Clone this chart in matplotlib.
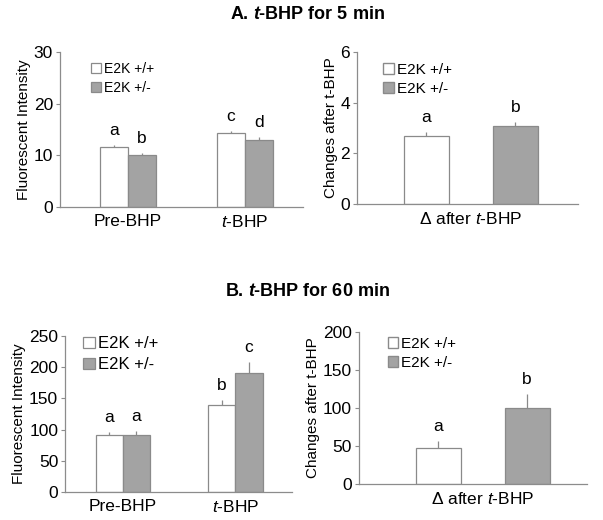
import numpy as np
import matplotlib
matplotlib.use("Agg")
import matplotlib.pyplot as plt

plt.rcParams["font.family"] = ["Liberation Sans", "DejaVu Sans"]
plt.rcParams["mathtext.fontset"] = "custom"
plt.rcParams["mathtext.rm"] = "Liberation Sans"
plt.rcParams["mathtext.it"] = "Liberation Sans:italic"
plt.rcParams["mathtext.bf"] = "Liberation Sans:bold"
plt.rcParams["mathtext.bfit"] = "Liberation Sans:italic:bold"

# data
groups = ["E2K +/+", "E2K +/-"]
cats_time = ["Pre-BHP", "$t$-BHP"]
cat_delta = "\u0394 after $t$-BHP"

a_wt = [11.6, 14.3]
a_wt_err = [0.4, 0.5]
a_het = [10.0, 13.0]
a_het_err = [0.4, 0.5]
a_letters_wt = ["a", "c"]
a_letters_het = ["b", "d"]

a_delta = [2.67, 3.07]
a_delta_err = [0.19, 0.17]
a_delta_letters = ["a", "b"]

b_wt = [91, 139]
b_wt_err = [5, 9]
b_het = [91, 190]
b_het_err = [7, 19]
b_letters_wt = ["a", "b"]
b_letters_het = ["a", "c"]

b_delta = [47, 100]
b_delta_err = [10, 18]
b_delta_letters = ["a", "b"]

WHITE = "#ffffff"
GRAY = "#a3a3a3"
EDGE = "#8a8a8a"
SPINE = "#8c8c8c"
FS = 12.5


def style_axis(ax, ylim, yticks, ylabel):
    ax.set_ylim(*ylim)
    ax.set_yticks(yticks)
    ax.set_ylabel(ylabel, fontsize=11, labelpad=2)
    for s in ["top", "right"]:
        ax.spines[s].set_visible(False)
    for s in ["left", "bottom"]:
        ax.spines[s].set_color(SPINE)
        ax.spines[s].set_linewidth(0.9)
    ax.tick_params(axis="y", colors=SPINE, labelcolor="black", labelsize=FS,
                   length=3, pad=2)
    ax.tick_params(axis="x", length=0, labelsize=FS, pad=5)


def add_letters(ax, xs, tops, letters):
    for x, t, l in zip(xs, tops, letters):
        ax.annotate(l, (x, t), xytext=(0, 5), textcoords="offset points",
                    ha="center", va="bottom", fontsize=FS)


def legend(ax, loc_xy, fs):
    leg = ax.legend(loc="upper left", bbox_to_anchor=loc_xy, frameon=False,
                    fontsize=fs, handlelength=0.7, handleheight=0.7,
                    handletextpad=0.2, labelspacing=0.35, borderaxespad=0)
    return leg


def grouped(ax, wt, wt_err, het, het_err, l_wt, l_het, xlim):
    x = np.arange(len(wt))
    w = 0.24
    ax.bar(x - w / 2, wt, w, color=WHITE, edgecolor=EDGE, linewidth=0.9,
           label=groups[0], zorder=2)
    ax.bar(x + w / 2, het, w, color=GRAY, edgecolor=EDGE, linewidth=0.9,
           label=groups[1], zorder=2)
    ax.errorbar(x - w / 2, wt, yerr=[np.zeros(len(wt)), wt_err], fmt="none",
                ecolor=EDGE, elinewidth=0.9, capsize=0, zorder=1)
    ax.errorbar(x + w / 2, het, yerr=[np.zeros(len(het)), het_err], fmt="none",
                ecolor=EDGE, elinewidth=0.9, capsize=0, zorder=1)
    add_letters(ax, x - w / 2, np.add(wt, wt_err), l_wt)
    add_letters(ax, x + w / 2, np.add(het, het_err), l_het)
    ax.set_xticks(x)
    ax.set_xticklabels(cats_time)
    ax.set_xlim(*xlim)


def delta(ax, vals, errs, letters, xlim):
    x = np.array([-0.5, 0.5])
    w = 0.506
    ax.bar(x, vals, w, color=[WHITE, GRAY], edgecolor=EDGE, linewidth=0.9, zorder=2)
    ax.errorbar(x, vals, yerr=[np.zeros(2), errs], fmt="none", ecolor=EDGE,
                elinewidth=0.9, capsize=0, zorder=1)
    add_letters(ax, x, np.add(vals, errs), letters)
    ax.set_xticks([0])
    ax.set_xticklabels([cat_delta])
    ax.set_xlim(*xlim)
    # legend proxies
    ax.bar([0], [0], 0, color=WHITE, edgecolor=EDGE, label=groups[0])
    ax.bar([0], [0], 0, color=GRAY, edgecolor=EDGE, label=groups[1])


fig = plt.figure(figsize=(6.03, 5.2), dpi=100)

ax1 = fig.add_axes([0.0995, 0.602, 0.403, 0.298])
grouped(ax1, a_wt, a_wt_err, a_het, a_het_err, a_letters_wt, a_letters_het, (-0.58, 1.5))
style_axis(ax1, (0, 30), [0, 10, 20, 30], "Fluorescent Intensity")
legend(ax1, (0.105, 0.97), 10)

ax2 = fig.add_axes([0.592, 0.6077, 0.366, 0.292])
delta(ax2, a_delta, a_delta_err, a_delta_letters, (-1.28, 1.2))
style_axis(ax2, (0, 6), [0, 2, 4, 6], "Changes after t-BHP")
legend(ax2, (0.09, 0.97), 11)

ax3 = fig.add_axes([0.108, 0.0538, 0.376, 0.3])
grouped(ax3, b_wt, b_wt_err, b_het, b_het_err, b_letters_wt, b_letters_het, (-0.51, 1.5))
style_axis(ax3, (0, 250), [0, 50, 100, 150, 200, 250], "Fluorescent Intensity")
legend(ax3, (0.05, 1.04), 12)

ax4 = fig.add_axes([0.595, 0.0692, 0.378, 0.292])
delta(ax4, b_delta, b_delta_err, b_delta_letters, (-1.39, 1.17))
style_axis(ax4, (0, 200), [0, 50, 100, 150, 200], "Changes after t-BHP")
legend(ax4, (0.1, 1.01), 11)

fig.text(0.51, 0.972, "A. $\\mathbfit{t}$-BHP for 5 min", ha="center", va="center",
         fontsize=13, fontweight="bold")
fig.text(0.51, 0.44, "B. $\\mathbfit{t}$-BHP for 60 min", ha="center", va="center",
         fontsize=13, fontweight="bold")

fig.savefig("out.png", dpi=100)
